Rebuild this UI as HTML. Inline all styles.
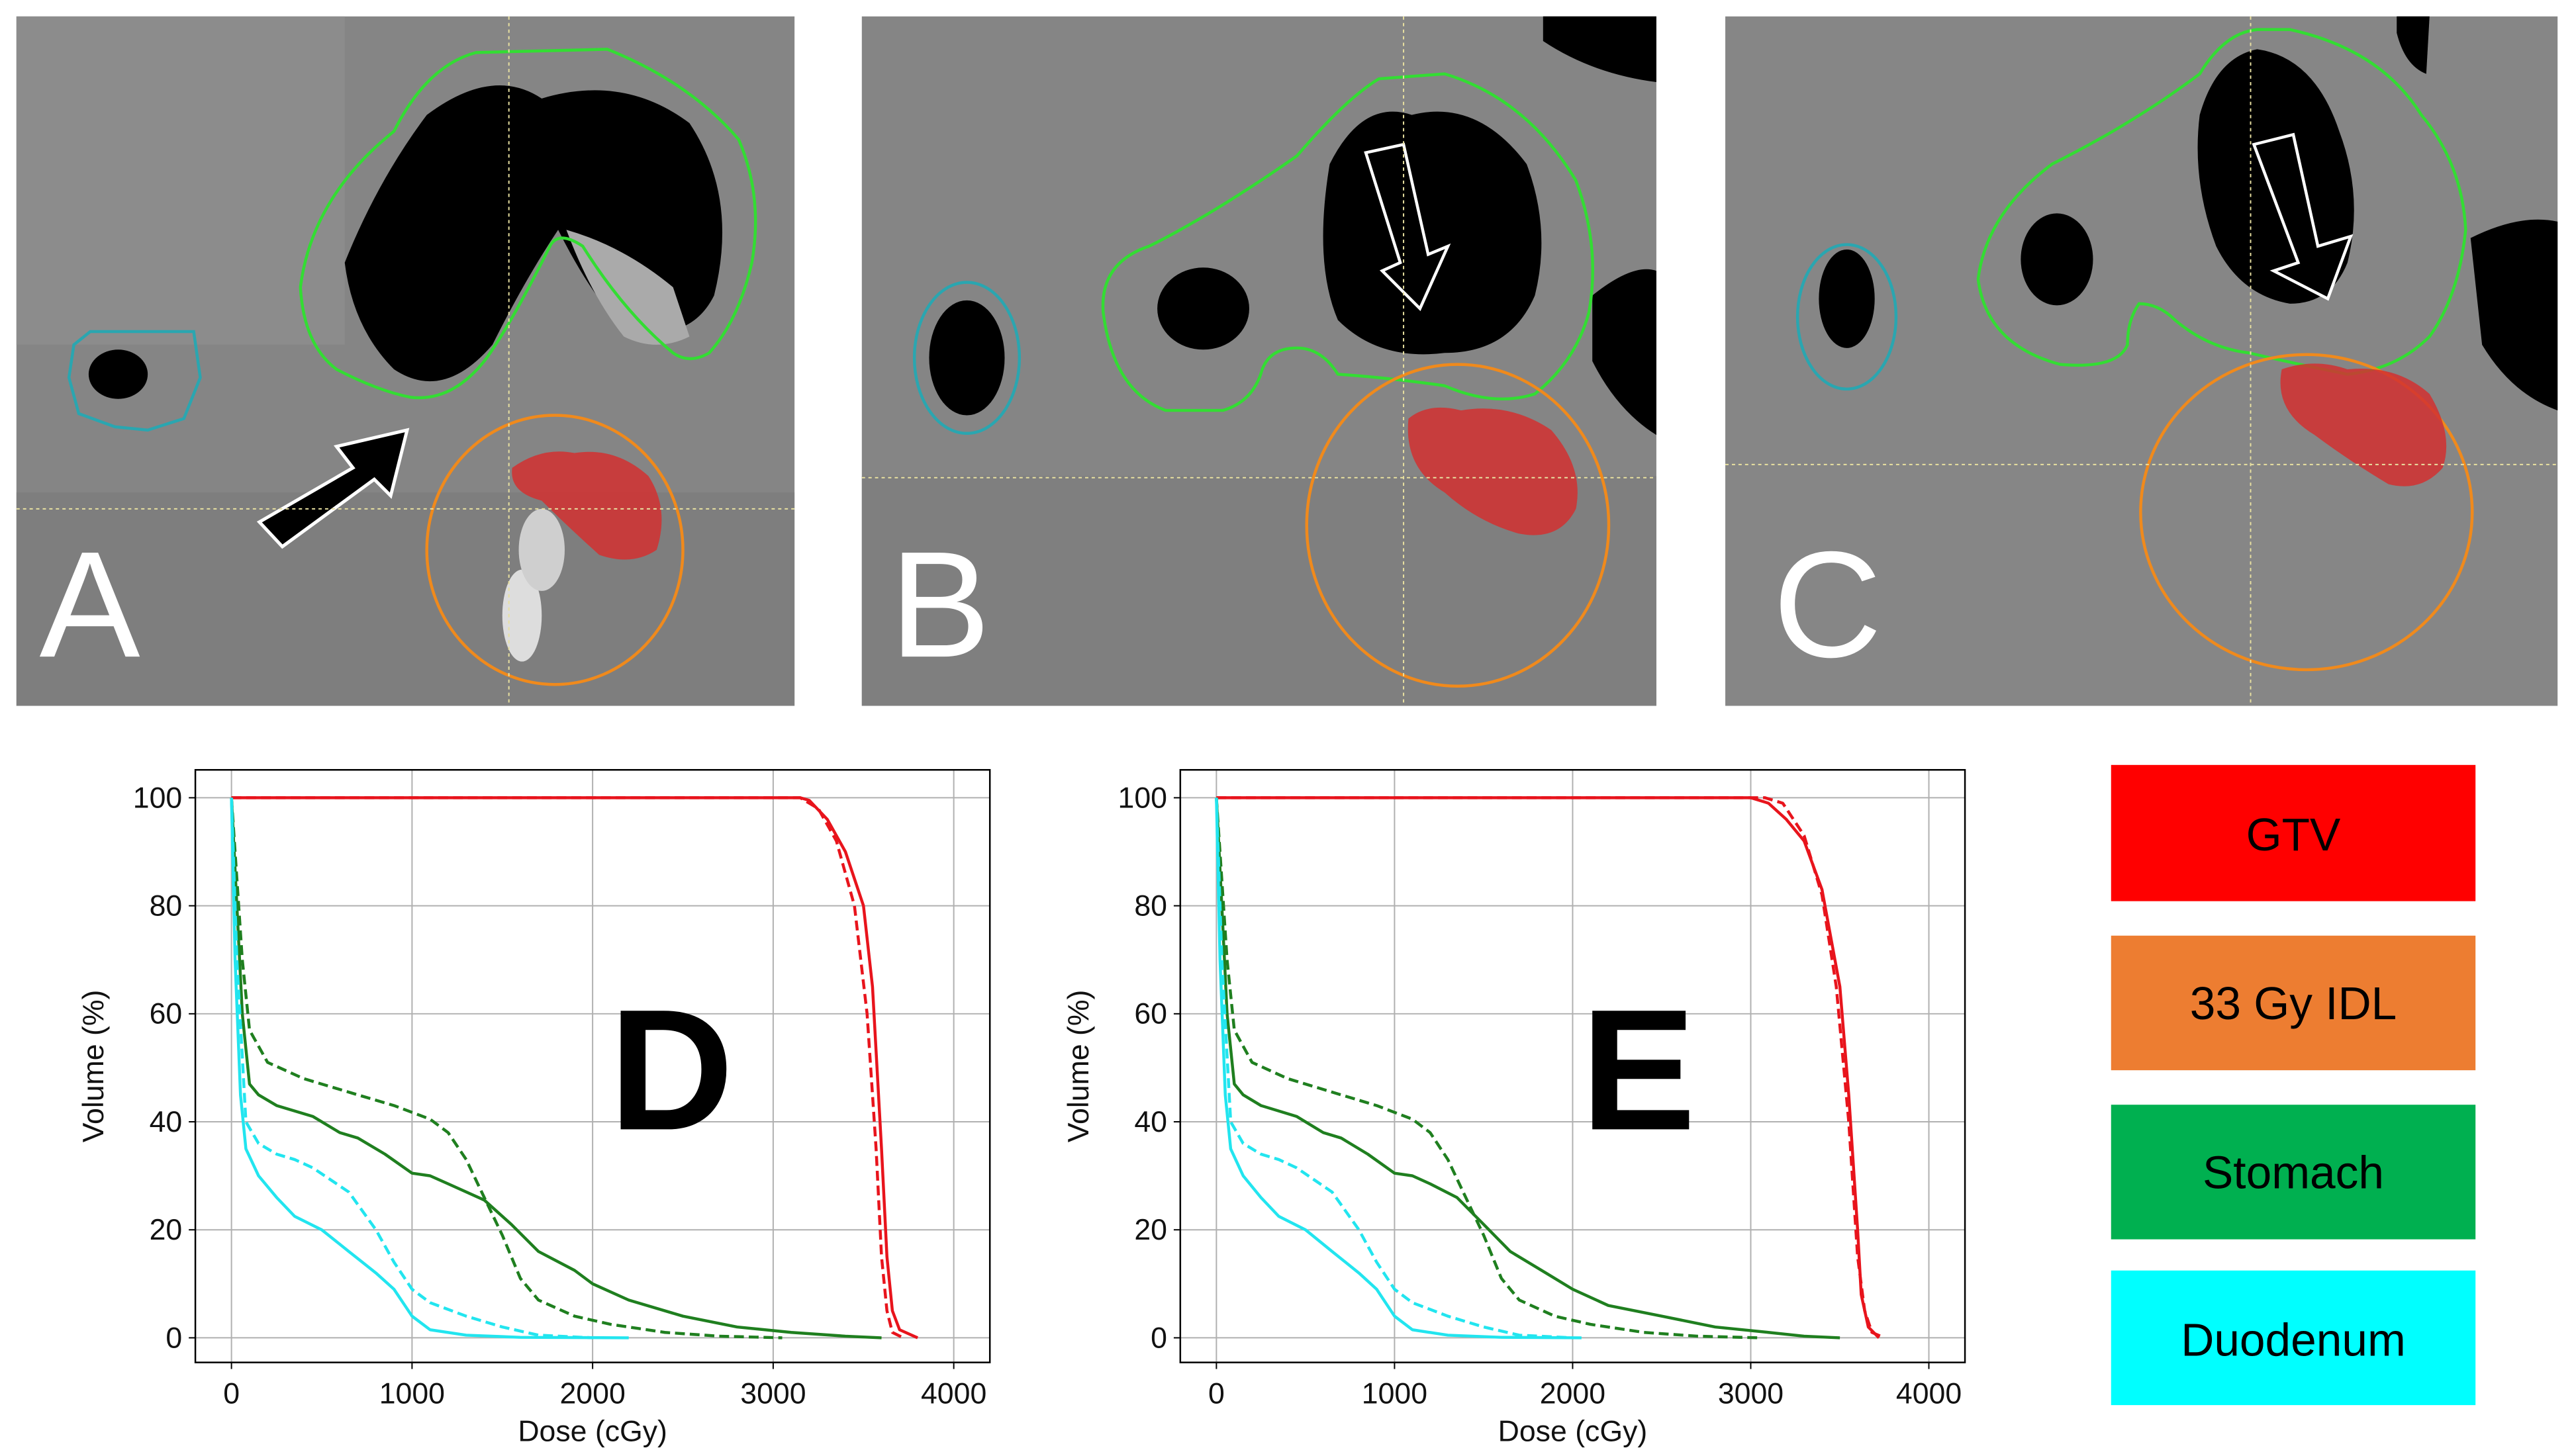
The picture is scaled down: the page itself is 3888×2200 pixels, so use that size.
<!DOCTYPE html>
<html><head><meta charset="utf-8"><style>
html,body{margin:0;padding:0;background:#fff}
svg{display:block}
text{font-family:"Liberation Sans","DejaVu Sans",sans-serif}
</style></head><body>
<svg id="fig" width="3888" height="2200" viewBox="0 0 1568 887" preserveAspectRatio="none" xmlns="http://www.w3.org/2000/svg">
<rect width="1568" height="887" fill="#fff"/>
<g>
<rect x="10" y="10" width="474" height="420" fill="#858585"/>
<rect x="10" y="10" width="200" height="200" fill="#8e8e8e" opacity="0.7"/>
<rect x="10" y="300" width="474" height="130" fill="#7a7a7a" opacity="0.6"/>
<path d="M210,160 Q230,110 260,70 Q300,40 330,60 Q380,45 420,75 Q450,120 435,180 Q420,210 380,200 Q360,180 340,140 Q320,170 300,210 Q270,245 240,225 Q215,200 210,160Z" fill="#000"/>
<path d="M345,140 Q360,180 380,205 Q400,215 420,205 L410,175 Q380,150 345,140Z" fill="#aaa"/>
<path d="M183,175 Q190,120 240,80 Q260,40 290,32 L370,30 Q420,50 450,85 Q465,120 458,160 Q450,195 432,215 Q420,222 410,215 Q380,190 355,150 Q340,140 335,150 Q310,200 295,220 Q275,245 250,242 Q230,238 205,225 Q185,210 183,175Z" fill="none" stroke="#33dd33" stroke-width="1.8"/>
<path d="M45,210 L55,202 L118,202 L122,230 L112,255 L90,262 L70,260 L48,252 L42,230Z" fill="none" stroke="#2aa6b0" stroke-width="1.8"/>
<ellipse cx="72" cy="228" rx="18" ry="15" fill="#000"/>
<ellipse cx="318" cy="375" rx="12" ry="28" fill="#ddd"/>
<ellipse cx="330" cy="335" rx="14" ry="25" fill="#cfcfcf"/>
<ellipse cx="338" cy="335" rx="78" ry="82" fill="none" stroke="#f08a1c" stroke-width="1.8"/>
<path d="M312,285 Q330,272 350,276 Q375,272 395,290 Q408,310 400,335 Q385,345 365,338 Q345,320 330,305 Q310,300 312,285Z" fill="#d23030" opacity="0.85"/>
<path d="M158,318 L215,285 L205,272 L248,262 L238,302 L228,292 L172,333Z" fill="#000" stroke="#fff" stroke-width="2"/>
<line x1="310" y1="10" x2="310" y2="430" stroke="#e8e0a0" stroke-width="0.8" stroke-dasharray="2,2"/>
<line x1="10" y1="310" x2="484" y2="310" stroke="#e8e0a0" stroke-width="0.8" stroke-dasharray="2,2"/>
<text x="24" y="400" font-size="92" fill="#fff">A</text>
</g>
<g>
<rect x="525" y="10" width="484" height="420" fill="#858585"/>
<rect x="525" y="290" width="484" height="140" fill="#7c7c7c" opacity="0.7"/>
<path d="M810,100 Q830,60 860,70 Q900,60 930,100 Q945,140 935,180 Q920,215 880,215 Q840,220 815,195 Q800,160 810,100Z" fill="#000"/>
<ellipse cx="733" cy="188" rx="28" ry="25" fill="#000"/>
<path d="M970,180 Q995,160 1009,165 L1009,265 Q985,250 970,220Z" fill="#000"/>
<path d="M940,10 L1009,10 L1009,50 Q970,45 940,25Z" fill="#000"/>
<ellipse cx="589" cy="218" rx="23" ry="35" fill="#000"/>
<ellipse cx="589" cy="218" rx="32" ry="46" fill="none" stroke="#2aa6b0" stroke-width="1.8"/>
<path d="M672,190 Q670,160 700,150 Q740,130 790,95 Q820,60 840,48 L880,45 Q930,60 960,110 Q975,150 968,190 Q960,220 935,240 Q910,248 880,235 Q845,230 815,228 Q805,212 790,212 Q772,212 768,228 Q762,245 745,250 L710,250 Q678,238 672,190Z" fill="none" stroke="#33dd33" stroke-width="1.8"/>
<ellipse cx="888" cy="320" rx="92" ry="98" fill="none" stroke="#f08a1c" stroke-width="1.8"/>
<path d="M858,255 Q870,245 890,250 Q920,245 945,262 Q965,285 960,310 Q950,330 925,325 Q900,318 880,300 Q855,285 858,255Z" fill="#d23030" opacity="0.85"/>
<path d="M832,93 L855,88 L870,155 L882,150 L865,188 L842,165 L853,160Z" fill="#000" stroke="#fff" stroke-width="1.8"/>
<line x1="855" y1="10" x2="855" y2="430" stroke="#e8e0a0" stroke-width="0.8" stroke-dasharray="2,2"/>
<line x1="525" y1="291" x2="1009" y2="291" stroke="#e8e0a0" stroke-width="0.8" stroke-dasharray="2,2"/>
<text x="542" y="400" font-size="92" fill="#fff">B</text>
</g>
<g>
<rect x="1051" y="10" width="507" height="420" fill="#868686"/>
<path d="M1340,70 Q1350,35 1375,30 Q1410,35 1425,80 Q1440,120 1430,160 Q1420,185 1395,185 Q1365,180 1350,150 Q1335,110 1340,70Z" fill="#000"/>
<ellipse cx="1253" cy="158" rx="22" ry="28" fill="#000"/>
<path d="M1505,145 Q1535,130 1558,135 L1558,250 Q1530,240 1512,210Z" fill="#000"/>
<path d="M1460,10 L1480,10 L1478,45 Q1465,40 1460,20Z" fill="#000"/>
<ellipse cx="1125" cy="182" rx="17" ry="30" fill="#000"/>
<ellipse cx="1125" cy="193" rx="30" ry="44" fill="none" stroke="#2aa6b0" stroke-width="1.8"/>
<path d="M1205,170 Q1210,130 1250,100 Q1300,75 1340,45 Q1355,20 1375,18 L1395,18 Q1450,30 1475,70 Q1500,100 1502,140 Q1498,180 1480,205 Q1460,225 1430,228 Q1400,222 1370,215 Q1345,212 1325,195 Q1315,185 1303,185 Q1296,195 1296,210 Q1290,225 1255,222 Q1210,210 1205,170Z" fill="none" stroke="#33dd33" stroke-width="1.8"/>
<ellipse cx="1405" cy="312" rx="101" ry="96" fill="none" stroke="#f08a1c" stroke-width="1.8"/>
<path d="M1390,225 Q1410,218 1430,225 Q1460,222 1480,240 Q1495,265 1488,285 Q1475,300 1455,295 Q1430,280 1410,265 Q1385,250 1390,225Z" fill="#d23030" opacity="0.85"/>
<path d="M1373,88 L1397,82 L1412,150 L1432,144 L1418,182 L1385,165 L1400,160Z" fill="#000" stroke="#fff" stroke-width="1.8"/>
<line x1="1371" y1="10" x2="1371" y2="430" stroke="#e8e0a0" stroke-width="0.8" stroke-dasharray="2,2"/>
<line x1="1051" y1="283" x2="1558" y2="283" stroke="#e8e0a0" stroke-width="0.8" stroke-dasharray="2,2"/>
<text x="1080" y="400" font-size="92" fill="#fff">C</text>
</g>
<g>
<rect x="1286" y="466" width="222" height="83" fill="#ff0000"/>
<text x="1397" y="518" font-size="28" text-anchor="middle">GTV</text>
<rect x="1286" y="570" width="222" height="82" fill="#ed7d31"/>
<text x="1397" y="621" font-size="28" text-anchor="middle">33 Gy IDL</text>
<rect x="1286" y="673" width="222" height="82" fill="#00b050"/>
<text x="1397" y="724" font-size="28" text-anchor="middle">Stomach</text>
<rect x="1286" y="774" width="222" height="82" fill="#00ffff"/>
<text x="1397" y="826" font-size="28" text-anchor="middle">Duodenum</text>
</g>
<g id="charts"></g>
</svg>
<script>
const xTicks=[0,1000,2000,3000,4000];
const yTicks=[0,20,40,60,80,100];
const dGtvSolidX=[0,3150,3200,3300,3400,3500,3550,3600,3630,3660,3700,3800];
const dGtvSolidY=[100,100,99.5,96,90,80,65,35,15,5,1.5,0];
const dGtvDashX=[0,3150,3250,3350,3450,3520,3570,3600,3630,3660,3720];
const dGtvDashY=[100,100,98,92,80,60,35,15,5,1,0];
const dStoSolidX=[0,30,60,100,150,250,450,600,700,850,1000,1100,1200,1400,1550,1700,1900,2000,2200,2500,2800,3100,3400,3600];
const dStoSolidY=[100,80,60,47,45,43,41,38,37,34,30.5,30,28.5,25.5,21,16,12.5,10,7,4,2,1,0.3,0];
const dStoDashX=[0,60,100,200,400,700,900,1100,1200,1300,1400,1500,1600,1700,1900,2100,2400,2700,3050];
const dStoDashY=[100,70,57,51,48,45,43,40.5,38,33,26,19,11,7,4,2.5,1,0.3,0];
const dDuoSolidX=[0,20,50,80,150,250,350,500,650,800,900,1000,1100,1300,1600,2200];
const dDuoSolidY=[100,70,45,35,30,26,22.5,20,16,12,9,4,1.5,0.5,0.1,0];
const dDuoDashX=[0,30,80,150,250,350,450,650,800,900,1000,1100,1300,1500,1700,2000];
const dDuoDashY=[100,70,40,36,34,33,31.5,27,20,14,9,6.5,4,2,0.5,0];
const eGtvSolidX=[0,3000,3100,3200,3300,3400,3500,3550,3600,3620,3660,3720];
const eGtvSolidY=[100,100,99,96,92,83,65,45,20,8,2,0];
const eGtvDashX=[0,3080,3180,3300,3400,3480,3550,3600,3640,3680,3750];
const eGtvDashY=[100,100,99,93,82,65,40,15,5,1,0];
const eStoSolidX=[0,30,60,100,150,250,450,600,700,850,1000,1100,1200,1350,1500,1650,1850,2000,2200,2500,2800,3100,3300,3500];
const eStoSolidY=[100,80,60,47,45,43,41,38,37,34,30.5,30,28.5,26,21,16,12,9,6,4,2,1,0.3,0];
const eStoDashX=[0,60,100,200,400,700,900,1100,1200,1300,1400,1500,1600,1700,1900,2100,2400,2700,3050];
const eStoDashY=[100,70,57,51,48,45,43,40.5,38,33,26,19,11,7,4,2.5,1,0.3,0];
const eDuoSolidX=[0,20,50,80,150,250,350,500,650,800,900,1000,1100,1300,1600,2050];
const eDuoSolidY=[100,70,45,35,30,26,22.5,20,16,12,9,4,1.5,0.5,0.1,0];
const eDuoDashX=[0,30,80,150,250,350,450,650,800,900,1000,1100,1300,1500,1700,2000];
const eDuoDashY=[100,70,40,36,34,33,31.5,27,20,14,9,6.5,4,2,0.5,0];

const NS="http://www.w3.org/2000/svg";
const root=document.getElementById('charts');
function mk(tag,attrs,parent){const e=document.createElementNS(NS,tag);for(const k in attrs)e.setAttribute(k,attrs[k]);parent.appendChild(e);return e;}
function drawChart(cfg){
  const g=mk('g',{},root);
  
  
  const xs=v=>cfg.x0+(v/1000)*cfg.xStep;
  const ys=v=>cfg.y0-(v/100)*(cfg.y0-cfg.y100);
  xTicks.forEach(t=>{
    const l=mk('line',{x1:xs(t),x2:xs(t),y1:cfg.top,y2:cfg.bottom,stroke:'#b0b0b0','stroke-width':0.8},g);
    
    
    mk('line',{x1:xs(t),x2:xs(t),y1:cfg.bottom,y2:cfg.bottom+4,stroke:'#000','stroke-width':0.8},g);
    const tx=mk('text',{x:xs(t),y:cfg.bottom+25,'font-size':18,'text-anchor':'middle',fill:'#111'},g);
    tx.textContent=t;
    
    
  });
  yTicks.forEach(t=>{
    const l=mk('line',{x1:cfg.left,x2:cfg.right,y1:ys(t),y2:ys(t),stroke:'#b0b0b0','stroke-width':0.8},g);
    
    
    mk('line',{x1:cfg.left-4,x2:cfg.left,y1:ys(t),y2:ys(t),stroke:'#000','stroke-width':0.8},g);
    const tx=mk('text',{x:cfg.left-8,y:ys(t)+6,'font-size':18,'text-anchor':'end',fill:'#111'},g);
    tx.textContent=t;
    
    
  });
  const big=mk('text',{x:cfg.letterX,y:688,'font-size':105,'font-weight':'bold','text-anchor':'middle',fill:'#000'},g);
  big.textContent=cfg.letter;
  
  
  cfg.series.forEach(s=>{
    const pts=s.x.map((v,i)=>xs(v).toFixed(1)+','+ys(s.y[i]).toFixed(1)).join(' ');
    const p=mk('polyline',{points:pts,fill:'none',stroke:s.color,'stroke-width':1.8,'stroke-linejoin':'round'},g);
    if(s.dash)p.setAttribute('stroke-dasharray','6,3');
    
    
  });
  const fr=mk('rect',{x:cfg.left,y:cfg.top,width:cfg.right-cfg.left,height:cfg.bottom-cfg.top,fill:'none',stroke:'#000','stroke-width':1},g);
  
  
  const xl=mk('text',{x:(cfg.left+cfg.right)/2,y:cfg.bottom+48,'font-size':18,'text-anchor':'middle',fill:'#111'},g);
  xl.textContent='Dose (cGy)';
  
  
  const cy=(cfg.top+cfg.bottom)/2;
  const yl=mk('text',{x:cfg.left-56,y:cy,'font-size':18,'text-anchor':'middle',fill:'#111',transform:'rotate(-90 '+(cfg.left-56)+' '+cy+')'},g);
  yl.textContent='Volume (%)';
  
  
}
drawChart({name:'dvh-chart-d',letter:'D',letterX:409,left:119,right:603,top:469,bottom:830,x0:141,xStep:110,y0:815,y100:486,series:[
 {name:'gtv-solid',x:dGtvSolidX,y:dGtvSolidY,color:'#e8141c'},
 {name:'gtv-dashed',x:dGtvDashX,y:dGtvDashY,color:'#e8141c',dash:1},
 {name:'stomach-solid',x:dStoSolidX,y:dStoSolidY,color:'#1f7f1f'},
 {name:'stomach-dashed',x:dStoDashX,y:dStoDashY,color:'#1f7f1f',dash:1},
 {name:'duodenum-solid',x:dDuoSolidX,y:dDuoSolidY,color:'#22e5ef'},
 {name:'duodenum-dashed',x:dDuoDashX,y:dDuoDashY,color:'#22e5ef',dash:1}]});
drawChart({name:'dvh-chart-e',letter:'E',letterX:998,left:719,right:1197,top:469,bottom:830,x0:741,xStep:108.5,y0:815,y100:486,series:[
 {name:'gtv-solid',x:eGtvSolidX,y:eGtvSolidY,color:'#e8141c'},
 {name:'gtv-dashed',x:eGtvDashX,y:eGtvDashY,color:'#e8141c',dash:1},
 {name:'stomach-solid',x:eStoSolidX,y:eStoSolidY,color:'#1f7f1f'},
 {name:'stomach-dashed',x:eStoDashX,y:eStoDashY,color:'#1f7f1f',dash:1},
 {name:'duodenum-solid',x:eDuoSolidX,y:eDuoSolidY,color:'#22e5ef'},
 {name:'duodenum-dashed',x:eDuoDashX,y:eDuoDashY,color:'#22e5ef',dash:1}]});
</script>
</body></html>
